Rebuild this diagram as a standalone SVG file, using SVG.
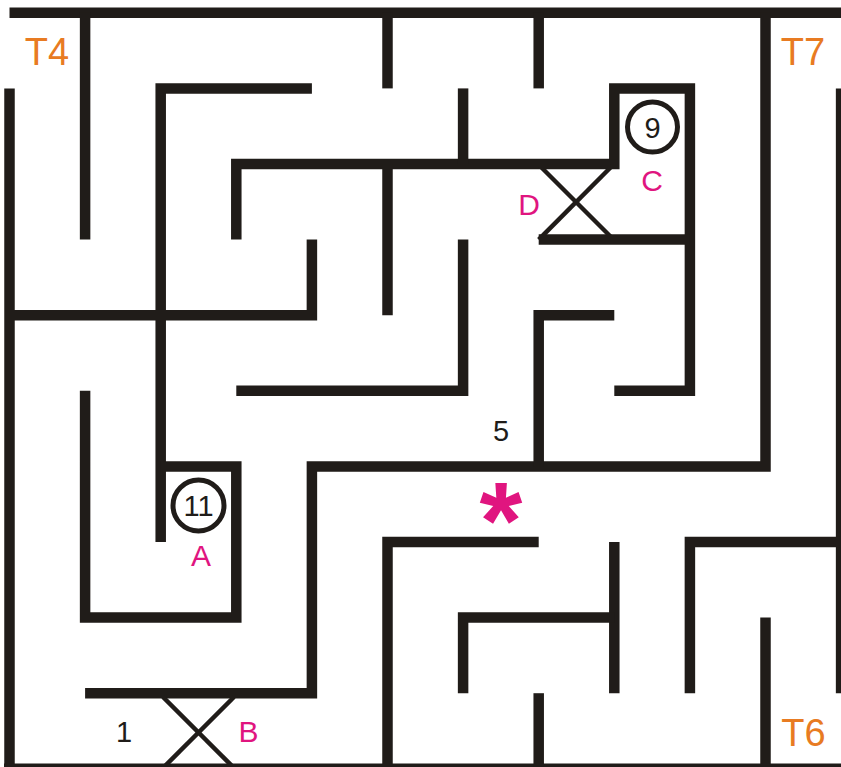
<svg xmlns="http://www.w3.org/2000/svg" width="841" height="767" viewBox="0 0 841 767">
<style>
.w{fill:none;stroke:#201c19;stroke-width:10.5;stroke-linecap:butt;stroke-linejoin:miter}
.x{fill:none;stroke:#201c19;stroke-width:4.5}
.c{fill:none;stroke:#201c19;stroke-width:5}
.t{font-family:"Liberation Sans",Arial,sans-serif;text-anchor:middle}
.num{fill:#201c19;font-size:29px}
.or{fill:#e87b22;font-size:38px}
.mg{fill:#e0157f;font-size:30px}
</style>
<rect width="841" height="767" fill="#ffffff"/>
<g id="walls">
<polyline class="w" points="9.5,12.8 846,12.8"/>
<polyline class="w" points="9.5,88.4 9.5,768.8"/>
<polyline class="w" points="841.1,88.4 841.1,693.2"/>
<polyline class="w" points="4,768.8 846,768.8"/>
<polyline class="w" points="85.1,12.8 85.1,239.6"/>
<polyline class="w" points="387.5,12.8 387.5,88.4"/>
<polyline class="w" points="538.7,12.8 538.7,88.4"/>
<polyline class="w" points="765.5,12.8 765.5,466.4 311.9,466.4 311.9,693.2 85.1,693.2"/>
<polyline class="w" points="311.9,88.4 160.7,88.4 160.7,542"/>
<polyline class="w" points="85.1,390.8 85.1,617.6 236.3,617.6 236.3,466.4 160.7,466.4"/>
<polyline class="w" points="9.5,315.2 311.9,315.2 311.9,239.6"/>
<polyline class="w" points="236.3,239.6 236.3,164 614.3,164 614.3,88.4 689.9,88.4 689.9,390.8 614.3,390.8"/>
<polyline class="w" points="538.7,239.6 689.9,239.6"/>
<polyline class="w" points="463.1,88.4 463.1,164"/>
<polyline class="w" points="387.5,164 387.5,315.2"/>
<polyline class="w" points="463.1,239.6 463.1,390.8 236.3,390.8"/>
<polyline class="w" points="614.3,315.2 538.7,315.2 538.7,466.4"/>
<polyline class="w" points="538.7,542 387.5,542 387.5,768.8"/>
<polyline class="w" points="614.3,542 614.3,693.2"/>
<polyline class="w" points="614.3,617.6 463.1,617.6 463.1,693.2"/>
<polyline class="w" points="538.7,693.2 538.7,768.8"/>
<polyline class="w" points="841.1,542 689.9,542 689.9,693.2"/>
<polyline class="w" points="765.5,617.6 765.5,768.8"/>
</g>
<g id="connectors">
<line class="x" x1="540" y1="166" x2="612" y2="238"/>
<line class="x" x1="612" y1="166" x2="538.7" y2="239.6"/>
<line class="x" x1="163" y1="697" x2="234" y2="768"/>
<line class="x" x1="234" y1="697" x2="163" y2="768"/>
</g>
<g id="node9">
<circle class="c" cx="652.5" cy="127" r="25"/>
<text class="t num" x="652.5" y="137.5">9</text>
</g>
<g id="node11">
<circle class="c" cx="198.5" cy="505.5" r="25.5"/>
<text class="t num" x="198.5" y="516">11</text>
</g>
<g id="labels">
<text class="t or" x="47" y="65">T4</text>
<text class="t or" x="803" y="65">T7</text>
<text class="t or" x="803.5" y="746">T6</text>
<text class="t mg" x="652" y="191">C</text>
<text class="t mg" x="529" y="215">D</text>
<text class="t mg" x="201" y="566">A</text>
<text class="t mg" x="248.5" y="742">B</text>
<text class="t num" x="124" y="742">1</text>
<text class="t num" x="501" y="441">5</text>
<text class="t" x="501" y="558" style="fill:#e0157f;font-size:110px;font-weight:bold">*</text>
</g>
</svg>
